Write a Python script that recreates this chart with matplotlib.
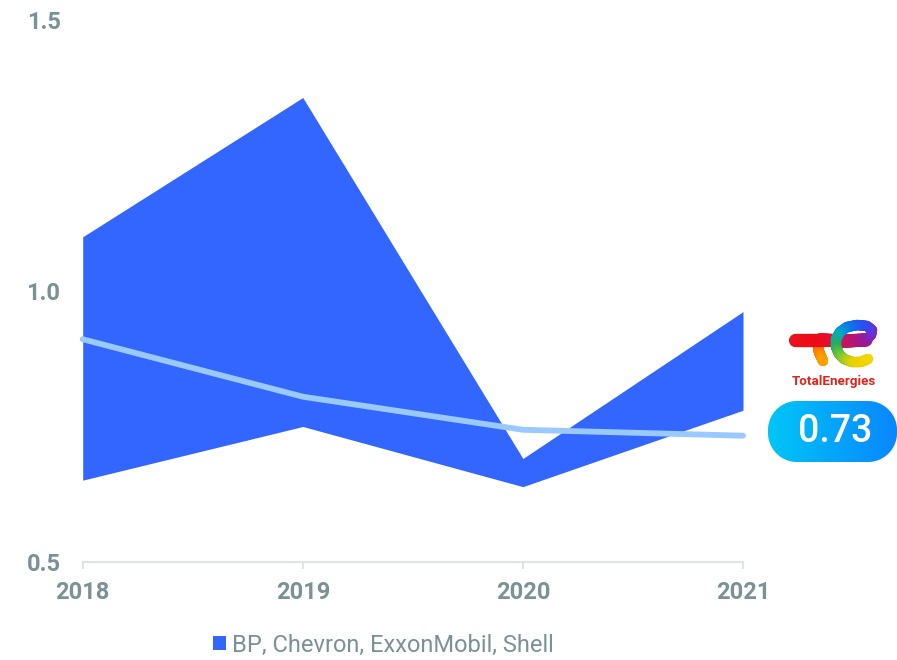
import numpy as np
import matplotlib
matplotlib.use("Agg")
import matplotlib.pyplot as plt
from matplotlib.patches import PathPatch
from matplotlib.path import Path
from matplotlib.collections import LineCollection
from matplotlib.colors import LinearSegmentedColormap

# ---- data ----
years = [2018, 2019, 2020, 2021]
peers_high = [1.10, 1.357, 0.691, 0.962]
peers_low = [0.651, 0.750, 0.639, 0.780]
total_values = [0.911, 0.805, 0.744, 0.733]
peers_label = "BP, Chevron, ExxonMobil, Shell"
brand_name = "TotalEnergies"
y_ticks = [0.5, 1.0, 1.5]

plt.rcParams['font.family'] = ['Roboto', 'DejaVu Sans']

W, H = 897, 660
fig = plt.figure(figsize=(W / 100, H / 100), dpi=100)
fig.patch.set_facecolor("white")

label_color = "#7a9196"
axis_color = "#dde3e6"
band_color = "#3366ff"
line_color = "#99c9ff"

ax = fig.add_axes([82.7 / W, 1 - 562 / H, (743 - 82.7) / W, (562 - 20) / H])
ax.fill_between(years, peers_low, peers_high, color=band_color, lw=0,
                label=peers_label, zorder=2)
ax.plot(years, total_values, color=line_color, lw=4.2, solid_capstyle="round",
        solid_joinstyle="round", clip_on=False, zorder=3)

ax.set_xlim(years[0], years[-1])
ax.set_ylim(0.5, 1.5)
ax.set_xticks(years)
ax.set_xticklabels([str(y) for y in years])
ax.set_yticks(y_ticks)
ax.set_yticklabels([f"{t:.1f}" for t in y_ticks])

for s in ["top", "right", "left"]:
    ax.spines[s].set_visible(False)
ax.spines["bottom"].set_color(axis_color)
ax.spines["bottom"].set_linewidth(1.5)
ax.tick_params(axis="x", colors=axis_color, length=5, width=1.5, pad=9,
               labelcolor=label_color, labelsize=17)
ax.tick_params(axis="y", length=0, pad=16, labelcolor=label_color, labelsize=17)
for lab in ax.get_xticklabels() + ax.get_yticklabels():
    lab.set_fontweight("bold")
ax.set_facecolor("none")

leg = fig.legend(loc="center", bbox_to_anchor=(383 / W, 1 - 645 / H),
                 frameon=False, fontsize=17, handlelength=0.55,
                 handleheight=0.55, handletextpad=0.25, borderpad=0)
for t in leg.get_texts():
    t.set_color(label_color)

# ---- overlay in pixel coordinates for badge and logo ----
ov = fig.add_axes([0, 0, 1, 1], zorder=5)
ov.set_xlim(0, W)
ov.set_ylim(H, 0)
ov.axis("off")
ov.patch.set_alpha(0)


def pill_path(x0, x1, y0, y1, r):
    """Closed rounded-rectangle outline built from true circular arcs."""
    pts = []
    corners = [(x1 - r, y0 + r, -90, 0), (x1 - r, y1 - r, 0, 90),
               (x0 + r, y1 - r, 90, 180), (x0 + r, y0 + r, 180, 270)]
    for cx, cy, a0, a1 in corners:
        a = np.radians(np.linspace(a0, a1, 30))
        pts.extend(zip(cx + r * np.cos(a), cy + r * np.sin(a)))
    pts.append(pts[0])
    codes = [Path.MOVETO] + [Path.LINETO] * (len(pts) - 2) + [Path.CLOSEPOLY]
    return Path(pts, codes)


# value badge with horizontal gradient
bx0, bx1, by0, by1 = 768, 897, 401, 462
badge = PathPatch(pill_path(bx0, bx1, by0, by1, 29), facecolor="none",
                  edgecolor="none", transform=ov.transData)
ov.add_patch(badge)
grad = np.linspace(0, 1, 256).reshape(1, -1)
gcmap = LinearSegmentedColormap.from_list("badge", ["#00c6f6", "#0a86ff"])
im = ov.imshow(grad, cmap=gcmap, extent=(bx0, bx1, by1, by0), aspect="auto",
               interpolation="bicubic", zorder=6)
im.set_clip_path(badge)
ov.text(835, 432, f"{total_values[-1]:.2f}", color="white", fontsize=27,
        fontweight="medium", ha="center", va="center", zorder=7)
ov.set_xlim(0, W)
ov.set_ylim(H, 0)


def gradient_stroke(pts, colors, width, n=120):
    pts = np.asarray(pts, float)
    d = np.r_[0, np.cumsum(np.hypot(*np.diff(pts, axis=0).T))]
    t = np.linspace(0, d[-1], n)
    xs = np.interp(t, d, pts[:, 0])
    ys = np.interp(t, d, pts[:, 1])
    segs = np.stack([np.c_[xs[:-1], ys[:-1]], np.c_[xs[1:], ys[1:]]], axis=1)
    cm = LinearSegmentedColormap.from_list("s", colors)
    lc = LineCollection(segs, colors=cm(np.linspace(0, 1, n - 1)),
                        linewidths=width, capstyle="round", zorder=6)
    ov.add_collection(lc)


# brand mark
gradient_stroke([(818, 343), (819, 352), (823, 361)],
                ["#ff3a10", "#ff7a00", "#ffa000"], 7.5)
gradient_stroke([(795, 340), (820, 340), (845, 341), (866, 340)],
                ["#e8141e", "#ee0a14", "#e01040", "#a01890"], 9.5)
gradient_stroke([(866, 340), (871, 335), (872, 330), (867, 326), (857, 325),
                 (847, 327), (840, 332), (836, 339), (836, 347), (839, 354),
                 (844, 359), (852, 362), (861, 362), (868, 359)],
                ["#a01890", "#6a30d8", "#2a50f0", "#1070f0", "#00a8c8",
                 "#20b060", "#80c830", "#e8d000", "#f4d400"], 7.5)
ov.text(834, 381, brand_name, color="#e2231a", fontsize=9.6, fontweight="bold",
        ha="center", va="center", zorder=7)

fig.savefig("out.png", dpi=100)
